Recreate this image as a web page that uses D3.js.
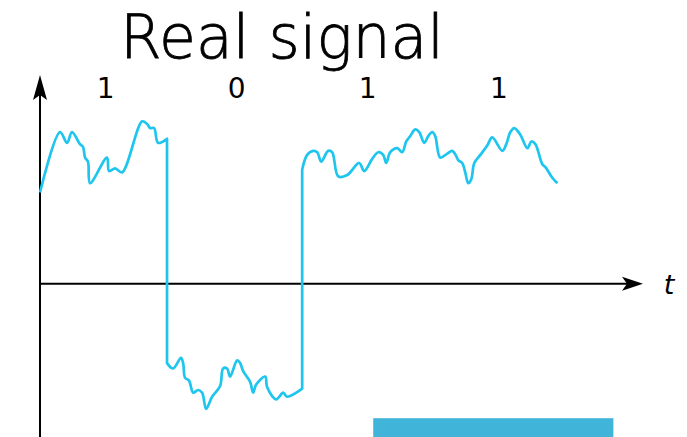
<!DOCTYPE html>
<html>
<head>
<meta charset="utf-8">
<script src="https://cdn.jsdelivr.net/npm/d3@7"></script>
<style>
html,body{margin:0;padding:0;background:#fff;}
svg{display:block;}
</style>
</head>
<body>
<svg id="chart" width="687" height="437"></svg>
<script>
// ---- data ----
const title = "Real signal";
const bitLabels = ["1", "0", "1", "1"];
const bitCenters = [0.5, 1.5, 2.5, 3.5];
const axisLabel = "t";
// time (in bit periods)
const sigT = [0,0.153,0.206,0.244,0.305,0.328,0.344,0.366,0.382,0.511,0.527,0.573,0.626,0.779,0.817,0.840,0.870,0.901,0.969,
  0.969,1.015,1.076,1.092,1.107,1.137,1.168,1.206,1.237,1.267,1.313,1.374,1.397,1.427,1.450,1.504,1.527,1.550,1.603,1.626,1.649,1.718,1.733,1.802,1.855,1.885,2.000,
  2.000,2.038,2.084,2.115,2.145,2.198,2.229,2.275,2.344,2.435,2.473,2.534,2.580,2.618,2.641,2.672,2.725,2.763,2.794,2.824,2.863,2.893,2.931,2.962,2.992,3.015,3.053,3.107,3.145,3.176,3.191,3.221,3.244,3.267,3.290,3.313,3.359,3.412,3.450,3.527,3.557,3.588,3.618,3.664,3.718,3.748,3.779,3.832,3.855,3.908,3.947];
// signal amplitude
const sigV = [0.68,1.13,1.05,1.13,1.04,1.02,0.94,0.91,0.75,0.94,0.84,0.86,0.83,1.21,1.19,1.16,1.16,1.05,1.08,
  -0.59,-0.63,-0.55,-0.59,-0.70,-0.72,-0.81,-0.79,-0.81,-0.93,-0.84,-0.76,-0.63,-0.63,-0.69,-0.57,-0.59,-0.65,-0.73,-0.81,-0.75,-0.69,-0.77,-0.86,-0.81,-0.84,-0.78,
  0.85,0.96,0.99,0.98,0.91,0.99,0.98,0.80,0.81,0.90,0.84,0.93,0.98,0.96,0.90,0.98,1.01,0.98,1.06,1.10,1.15,1.13,1.05,1.10,1.13,1.10,0.94,0.97,0.99,0.95,0.92,0.90,0.83,0.75,0.78,0.90,0.96,1.03,1.09,0.99,1.04,1.13,1.16,1.11,1.01,1.06,1.04,0.89,0.87,0.79,0.75];
// highlight bar [tStart, tEnd], [vTop, vBottom]
const barT = [2.542, 4.374];
const barV = [-1.0, -1.14];

// ---- scales ----
const svg = d3.select("#chart");
const x = d3.scaleLinear().domain([0, 4.6]).range([40, 643]);
const y = d3.scaleLinear().domain([-1.14, 1.54]).range([437, 77]);

// highlight bar
svg.append("rect")
  .attr("x", x(barT[0])).attr("width", x(barT[1]) - x(barT[0]))
  .attr("y", y(barV[0])).attr("height", y(barV[1]) - y(barV[0]))
  .attr("fill", "#40b4d9");

// axes
const ax = svg.append("g").attr("stroke", "#000").attr("stroke-width", 2);
ax.append("line").attr("x1", x(0)).attr("x2", x(4.6) - 14).attr("y1", y(0)).attr("y2", y(0));
ax.append("line").attr("x1", x(0)).attr("x2", x(0)).attr("y1", y(-1.14)).attr("y2", y(1.54) + 14);

// arrow heads
const tipX = x(4.6), tipY = y(0);
svg.append("path")
  .attr("d", `M${tipX},${tipY} L${tipX-21},${tipY-7} L${tipX-16},${tipY} L${tipX-21},${tipY+7} Z`)
  .attr("fill", "#000");
const vx = x(0), vy = y(1.54) - 2;
svg.append("path")
  .attr("d", `M${vx},${vy} L${vx-7},${vy+25} L${vx},${vy+20} L${vx+7},${vy+25} Z`)
  .attr("fill", "#000");

// signal: smooth within each bit level, straight vertical transitions
const pts = sigT.map((t, i) => [t, sigV[i]]);
const segments = [];
let cur = [];
pts.forEach((p, i) => {
  if (i > 0 && p[0] === pts[i - 1][0]) { segments.push(cur); cur = []; }
  cur.push(p);
});
segments.push(cur);
const line = d3.line().x(d => x(d[0])).y(d => y(d[1])).curve(d3.curveCatmullRom.alpha(0.5));
const d = segments.map((s, i) => { const p = line(s); return i === 0 ? p : "L" + p.slice(1); }).join("");
svg.append("path")
  .attr("d", d)
  .attr("fill", "none")
  .attr("stroke", "#1ec5ee")
  .attr("stroke-width", 2.7)
  .attr("stroke-linejoin", "round");

// bit labels
svg.selectAll("text.bit").data(bitLabels).join("text")
  .attr("class", "bit")
  .attr("x", (d, i) => x(bitCenters[i]))
  .attr("y", 98)
  .attr("text-anchor", "middle")
  .attr("font-family", "DejaVu Sans")
  .attr("font-size", 28)
  .attr("fill", "#000")
  .text(d => d);

// axis label
svg.append("text")
  .attr("x", 669).attr("y", 294)
  .attr("text-anchor", "middle")
  .attr("font-family", "DejaVu Sans")
  .attr("font-style", "oblique")
  .attr("font-size", 27)
  .text(axisLabel);

// title
svg.append("text")
  .attr("x", 282).attr("y", 58)
  .attr("text-anchor", "middle")
  .attr("font-family", "DejaVu Sans")
  .attr("font-weight", 200)
  .attr("font-size", 60)
  .attr("fill", "#000")
  .attr("stroke", "#000")
  .attr("stroke-width", 0.8)
  .text(title);
</script>
</body>
</html>
